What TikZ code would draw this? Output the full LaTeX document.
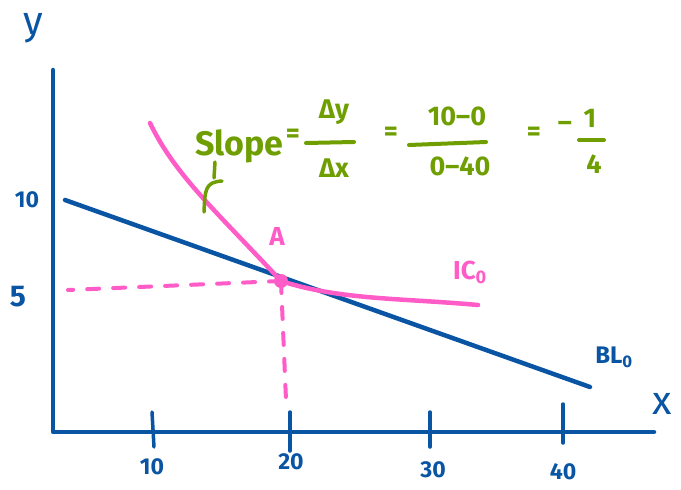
\documentclass[tikz,border=0pt]{standalone}
\usepackage{fontspec}
\setmainfont{Fira Sans}
\begin{document}
\begin{tikzpicture}[x=1pt,y=-1pt,
  line cap=round, line join=round,
  bl/.style={draw=axblue, line width=4.5pt},
  pk/.style={draw=icpink, line width=4.5pt},
  pkdash/.style={draw=icpink, line width=4pt, dash pattern=on 12pt off 14pt},
  tick/.style={draw=axblue, line width=3.5pt},
  bar/.style={draw=slgreen, line width=4pt},
  bluetxt/.style={text=axblue, font=\fontsize{23}{25}\selectfont\bfseries, inner sep=0pt},
  pinktxt/.style={text=icpink, font=\fontsize{26}{28}\selectfont\bfseries, inner sep=0pt},
  greentxt/.style={text=slgreen, font=\fontsize{27}{29}\selectfont\bfseries, inner sep=0pt}
]
\definecolor{axblue}{HTML}{0A55A3}
\definecolor{icpink}{HTML}{FF5CC8}
\definecolor{slgreen}{HTML}{6E9E00}
\useasboundingbox (0,0) rectangle (681,490);

% axes
\coordinate (O) at (53,432);
\coordinate (ytop) at (53,70);
\coordinate (xend) at (654,432);
\draw[bl] (ytop) -- (O) -- (xend);

% ticks
\coordinate (t1a) at (152,412); \coordinate (t1b) at (154,447);
\coordinate (t2a) at (290,412); \coordinate (t2b) at (290,451);
\coordinate (t3a) at (430,412); \coordinate (t3b) at (430,447);
\coordinate (t4a) at (563,404); \coordinate (t4b) at (563,443);
\draw[tick] (t1a) -- (t1b);
\draw[tick] (t2a) -- (t2b);
\draw[tick] (t3a) -- (t3b);
\draw[tick] (t4a) -- (t4b);

% axis labels
\node[bluetxt, font=\fontsize{40}{42}\selectfont] (ylab) at (33,28) {y};
\node[bluetxt, font=\fontsize{40}{42}\selectfont] (xlab) at (662,404) {x};
\node[bluetxt] (y10) at (27,200) {10};
\node[bluetxt, font=\fontsize{30}{32}\selectfont\bfseries] (y5) at (18,297) {5};
\node[bluetxt] (x10) at (152,467) {10};
\node[bluetxt] (x20) at (291,462) {20};
\node[bluetxt] (x30) at (433,470) {30};
\node[bluetxt] (x40) at (563,472) {40};

% budget line
\coordinate (bl1) at (65,200);
\coordinate (bl2) at (590,387);
\draw[bl] (bl1) -- (bl2);
\node[bluetxt, font=\fontsize{24}{26}\selectfont\bfseries] (BL) at (614,357) {BL\textsubscript{0}};

% point A
\coordinate (A) at (281,281);
\coordinate (hd) at (68,290);
\coordinate (vd) at (286,400);
\draw[pkdash] (A) -- (hd);
\draw[pkdash] (A) -- (vd);

% indifference curve
\coordinate (ic1) at (150,123);
\coordinate (ic2) at (478,305);
\draw[pk] (ic1) .. controls (175,175) and (215,210) .. (A)
      .. controls (340,300) and (400,298) .. (ic2);
\fill[icpink] (A) circle (7pt);
\node[pinktxt] (Alab) at (277,236) {A};
\node[pinktxt] (IC) at (470,272) {IC\textsubscript{0}};

% slope formula
\node[greentxt, font=\fontsize{34}{36}\selectfont\bfseries, anchor=base west] (slope) at (195,155) {Slope};
\node[greentxt] (eq1) at (293,136) {=};
\node[greentxt] (n1) at (334,112) {Δy};
\coordinate (b1a) at (306,143); \coordinate (b1b) at (354,142);
\draw[bar] (b1a) -- (b1b);
\node[greentxt] (d1) at (334,168) {Δx};
\node[greentxt] (eq2) at (391,134) {=};
\node[greentxt] (n2) at (457,116) {10–0};
\coordinate (b2a) at (409,145); \coordinate (b2b) at (486,142);
\draw[bar] (b2a) -- (b2b);
\node[greentxt] (d2) at (460,166) {0–40};
\node[greentxt] (eq3) at (534,134) {=};
\node[greentxt] (neg) at (565,126) {–};
\node[greentxt] (n3) at (590,118) {1};
\coordinate (b3a) at (579,140); \coordinate (b3b) at (604,140);
\draw[bar] (b3a) -- (b3b);
\node[greentxt] (d3) at (594,164) {4};

% pointer from text to curve
\coordinate (p1) at (215,162);
\coordinate (p2) at (214,178);
\coordinate (p3) at (222,181);
\coordinate (p4) at (204,212);
\draw[draw=slgreen, line width=3.5pt] (p1) -- (p2);
\draw[draw=slgreen, line width=3.5pt] (p3) .. controls (205,182) and (205,190) .. (p4);
\end{tikzpicture}
\end{document}
